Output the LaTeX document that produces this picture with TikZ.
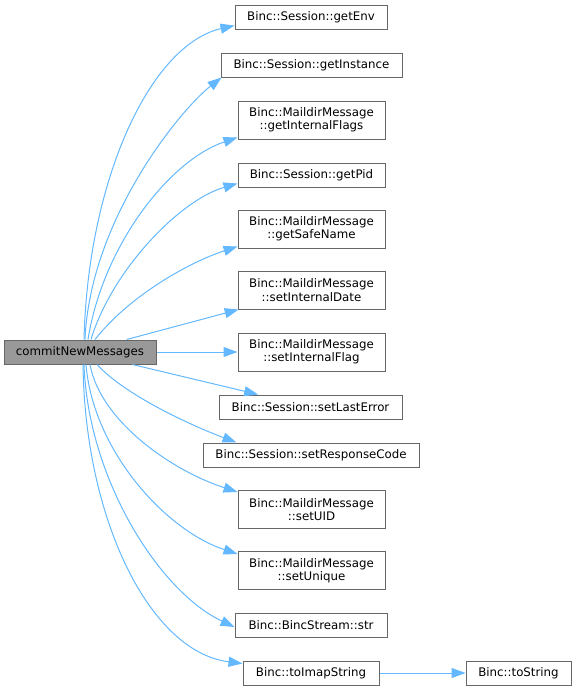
\documentclass[tikz,border=0pt]{standalone}
\usepackage{fontspec}
\setmainfont{DejaVu Sans}
\usetikzlibrary{arrows.meta}
\definecolor{edgeblue}{HTML}{63B8FF}
\definecolor{boxgray}{HTML}{666666}
\definecolor{mainfill}{HTML}{999999}
\begin{document}
\begin{tikzpicture}[x=1pt,y=-1pt,
  box/.style={draw=boxgray, fill=white, line width=1pt, inner sep=0pt, align=center,
    font=\fontsize{11.8}{13.2}\selectfont, text=black},
  mainbox/.style={box, fill=mainfill},
  edge/.style={draw=edgeblue, line width=1pt, -{Triangle[length=14pt,width=10pt]}}]
\useasboundingbox (0,0) rectangle (577,691);
\node[mainbox, minimum width=152pt, minimum height=24pt] (main) at (80,352) {commitNewMessages};
\node[box, minimum width=152pt, minimum height=24pt] (getEnv) at (311,17) {Binc::Session::getEnv};
\node[box, minimum width=181pt, minimum height=24pt] (getInstance) at (311.5,65) {Binc::Session::getInstance};
\node[box, minimum width=147pt, minimum height=38pt] (getInternalFlags) at (311.5,120) {Binc::MaildirMessage\\::getInternalFlags};
\node[box, minimum width=147pt, minimum height=24pt] (getPid) at (311.5,175) {Binc::Session::getPid};
\node[box, minimum width=147pt, minimum height=38pt] (getSafeName) at (311.5,229) {Binc::MaildirMessage\\::getSafeName};
\node[box, minimum width=147pt, minimum height=38pt] (setInternalDate) at (311.5,290) {Binc::MaildirMessage\\::setInternalDate};
\node[box, minimum width=147pt, minimum height=38pt] (setInternalFlag) at (311.5,352) {Binc::MaildirMessage\\::setInternalFlag};
\node[box, minimum width=183pt, minimum height=24pt] (setLastError) at (310.5,407) {Binc::Session::setLastError};
\node[box, minimum width=216pt, minimum height=24pt] (setResponseCode) at (311,455) {Binc::Session::setResponseCode};
\node[box, minimum width=147pt, minimum height=38pt] (setUID) at (311.5,509.5) {Binc::MaildirMessage\\::setUID};
\node[box, minimum width=147pt, minimum height=38pt] (setUnique) at (311.5,570.5) {Binc::MaildirMessage\\::setUnique};
\node[box, minimum width=152pt, minimum height=24pt] (str) at (311,625) {Binc::BincStream::str};
\node[box, minimum width=136pt, minimum height=24pt] (toImapString) at (311,673) {Binc::toImapString};
\node[box, minimum width=105pt, minimum height=24pt] (toString) at (518.5,673) {Binc::toString};

\draw[edge] ([xshift=4pt]main.north) .. controls (88,180) and (150,45) .. ([yshift=4pt]getEnv.south west);
\draw[edge] ([xshift=5pt]main.north) .. controls (90,220) and (180,110) .. ([xshift=1pt]getInstance.south west);
\draw[edge] ([xshift=8pt]main.north) .. controls (103,245) and (170,160) .. ([yshift=2pt]getInternalFlags.south west);
\draw[edge] ([xshift=11pt]main.north) .. controls (112,270) and (180,200) .. ([yshift=4pt]getPid.south west);
\draw[edge] ([xshift=15pt]main.north) .. controls (130,295) and (190,262) .. ([yshift=2pt]getSafeName.south west);
\draw[edge] (main) -- (setInternalDate);
\draw[edge] (main.east) -- (setInternalFlag.west);
\draw[edge] (main) -- (setLastError);
\draw[edge] ([xshift=17pt]main.south) .. controls (125,395) and (190,425) .. ([xshift=34pt]setResponseCode.north west);
\draw[edge] ([xshift=10pt]main.south) .. controls (100,420) and (170,470) .. ([yshift=-2pt]setUID.north west);
\draw[edge] ([xshift=6pt]main.south) .. controls (93,450) and (165,530) .. ([yshift=-3pt]setUnique.north west);
\draw[edge] ([xshift=4pt]main.south) .. controls (88,480) and (160,592) .. ([yshift=-2pt]str.west);
\draw[edge] ([xshift=3pt]main.south) .. controls (85,520) and (150,652) .. ([yshift=-3pt]toImapString.north west);
\draw[edge] (toImapString) -- (toString);
\end{tikzpicture}
\end{document}
